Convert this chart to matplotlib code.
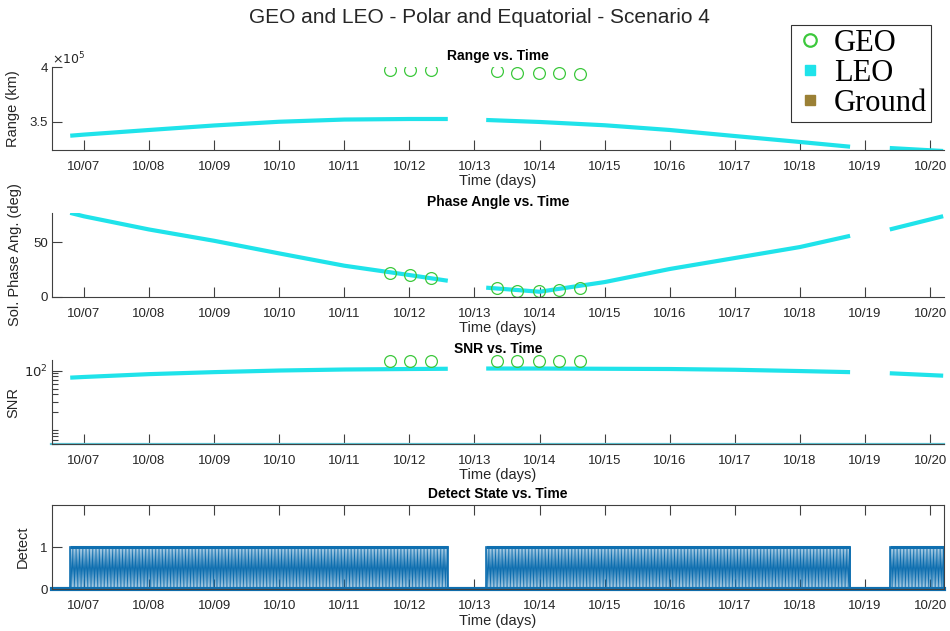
import numpy as np
import matplotlib
matplotlib.use("Agg")
import matplotlib.pyplot as plt
from matplotlib.ticker import FixedLocator, FuncFormatter, NullFormatter
from matplotlib.lines import Line2D

# ---- data (day of October) ----
nan = np.nan
leo_days = [6.79, 7.0, 8.0, 9.0, 10.0, 11.0, 12.0, 12.59, nan,
            13.18, 14.0, 15.0, 16.0, 17.0, 18.0, 18.77, nan,
            19.38, 20.2]
leo_range = [3.375e5, 3.385e5, 3.427e5, 3.468e5, 3.502e5, 3.522e5, 3.527e5, 3.527e5, nan,
             3.518e5, 3.500e5, 3.470e5, 3.427e5, 3.372e5, 3.318e5, 3.275e5, nan,
             3.263e5, 3.236e5]
leo_phase = [76.6, 73.5, 61.5, 51.2, 39.7, 28.5, 20.0, 14.8, nan,
             8.5, 4.8, 13.6, 25.5, 35.5, 45.5, 55.7, nan,
             61.5, 73.6]
leo_snr = [76, 78, 87, 94, 100, 104, 106, 107, nan,
           108, 108, 107, 106, 103, 98, 94, nan,
           90, 82]
leo_snr_floor_days = [6.5, 20.21]
leo_snr_floor = [5.9, 5.9]

geo_days = [11.70, 12.01, 12.33, 13.34, 13.66, 13.995, 14.30, 14.62]
geo_range = [3.973e5, 3.973e5, 3.973e5, 3.964e5, 3.948e5, 3.948e5, 3.942e5, 3.933e5]
geo_phase = [22.1, 20.0, 17.0, 8.5, 5.7, 5.7, 6.4, 8.5]
geo_snr = [146, 146, 146, 146, 146, 146, 146, 146]

# detection windows (start, end) and detector sample cadence in days
detect_windows = [(6.79, 12.59), (13.18, 18.77), (19.38, 20.21)]
detect_cadence = 0.011

tick_days = list(range(7, 21))
tick_labels = ["10/%02d" % d for d in tick_days]

# ---- style ----
GEO_C = "#3cc83c"
LEO_C = "#1fe3ea"
GROUND_C = "#9b8035"
DET_C = "#0f6fb0"
AX_C = "#404040"
TXT_C = "#262626"

plt.rcParams["font.family"] = ["Liberation Sans", "DejaVu Sans"]

fig = plt.figure(figsize=(9.5, 6.31), dpi=100)
W, H = 950.0, 631.0
left, right = 52 / W, 943.5 / W
panels = [(67, 150), (213, 297), (360, 444), (505, 589.3)]
axes = []
for top, bot in panels:
    ax = fig.add_axes([left, 1 - bot / H, right - left, (bot - top) / H])
    axes.append(ax)

xlim = (6.51, 20.205)
axw = right * W - left * W


def style(ax, boxed=False):
    ax.set_xlim(*xlim)
    ax.set_xticks(tick_days)
    ax.set_xticklabels(tick_labels)
    ax.tick_params(direction="in", length=7, width=0.8, colors=AX_C,
                   labelcolor=TXT_C, labelsize=9.5, pad=8)
    ax.tick_params(axis="y", pad=3)
    for s in ["left", "bottom", "top", "right"]:
        ax.spines[s].set_color(AX_C)
        ax.spines[s].set_linewidth(0.8)
    if boxed:
        ax.tick_params(top=True, right=False)
    else:
        ax.spines["top"].set_visible(False)
        ax.spines["right"].set_visible(False)
    ax.set_xlabel("Time (days)", fontsize=10.5, color=TXT_C, labelpad=1)
    ax.patch.set_alpha(0)


def ylabel(ax, text, xpix):
    ax.set_ylabel(text, fontsize=10.5, color=TXT_C)
    ax.yaxis.set_label_coords((xpix - left * W) / axw, 0.5)


# Range
ax = axes[0]
ax.plot(leo_days, leo_range, color=LEO_C, lw=3, solid_capstyle="butt", label="LEO")
ax.plot(geo_days, geo_range, "o", mfc="none", mec=GEO_C, ms=8.5, mew=0.9, label="GEO")
ax.set_ylim(3.245e5, 4.0e5)
ax.set_yticks([3.5e5, 4.0e5])
ax.yaxis.set_major_formatter(FuncFormatter(lambda v, p: "%g" % (v / 1e5)))
ax.text(0.0, 1.0, r"$\times10^{5}$", transform=ax.transAxes, fontsize=9,
        color=TXT_C, ha="left", va="bottom")
ylabel(ax, "Range (km)", 20)
ax.set_title("Range vs. Time", fontsize=10, fontweight="bold", pad=5)
style(ax)

# Phase angle
ax = axes[1]
ax.plot(leo_days, leo_phase, color=LEO_C, lw=3, solid_capstyle="butt")
ax.plot(geo_days, geo_phase, "o", mfc="none", mec=GEO_C, ms=8.5, mew=0.9)
ax.set_ylim(0, 76.5)
ax.set_yticks([0, 50])
ylabel(ax, "Sol. Phase Ang. (deg)", 22)
ax.set_title("Phase Angle vs. Time", fontsize=10, fontweight="bold", pad=5)
style(ax)

# SNR
ax = axes[2]
ax.plot(leo_snr_floor_days, leo_snr_floor, color="#5cc4d4", lw=1.6, clip_on=False)
ax.plot(leo_days, leo_snr, color=LEO_C, lw=3, solid_capstyle="butt")
ax.plot(geo_days, geo_snr, "o", mfc="none", mec=GEO_C, ms=8.5, mew=0.9, clip_on=False)
ax.set_yscale("log")
ax.set_ylim(5.9, 150)
ax.yaxis.set_major_locator(FixedLocator([100]))
ax.yaxis.set_minor_locator(FixedLocator([6, 7, 8, 9, 10, 20, 30, 40, 50, 60, 70, 80, 90]))
ax.yaxis.set_minor_formatter(NullFormatter())
ax.yaxis.set_major_formatter(FuncFormatter(lambda v, p: r"$10^{2}$"))
ax.tick_params(axis="y", which="minor", direction="in", length=4, width=0.8, colors=AX_C)
ylabel(ax, "SNR", 20)
ax.set_title("SNR vs. Time", fontsize=10, fontweight="bold", pad=5)
style(ax)

# Detect state
ax = axes[3]
t_all, s_all = [xlim[0]], [0.0]
for a, b in detect_windows:
    t = np.arange(a, b, detect_cadence)
    s = (np.arange(len(t)) % 2).astype(float)
    t_all += [a] + list(t) + [b, b]
    s_all += [0.0] + list(s) + [1.0, 0.0]
t_all.append(xlim[1])
s_all.append(0.0)
ax.plot(t_all, s_all, color=DET_C, lw=0.5)
for a, b in detect_windows:
    ax.plot([a, b], [1, 1], color=DET_C, lw=2.2, solid_capstyle="butt")
    ax.plot([a, a], [0, 1], color=DET_C, lw=1.2)
    ax.plot([b, b], [0, 1], color=DET_C, lw=1.2)
ax.plot([xlim[0], xlim[1]], [0, 0], color=DET_C, lw=3, clip_on=False)
ax.set_ylim(0, 2)
ax.set_yticks([0, 1])
ylabel(ax, "Detect", 30)
ax.set_title("Detect State vs. Time", fontsize=10, fontweight="bold", pad=5)
style(ax, boxed=True)

# ground track has no samples in this window
axes[0].plot([], [], "s", color=GROUND_C, label="Ground")

fig.suptitle("GEO and LEO - Polar and Equatorial - Scenario 4", fontsize=15,
             color=TXT_C, x=0.505, y=0.988)

handles = [
    Line2D([], [], ls="none", marker="o", mfc="none", mec=GEO_C, ms=9, mew=1.6),
    Line2D([], [], ls="none", marker="s", color=LEO_C, ms=7),
    Line2D([], [], ls="none", marker="s", color=GROUND_C, ms=7),
]
leg = fig.legend(handles, ["GEO", "LEO", "Ground"], loc="upper right",
                 bbox_to_anchor=(931 / W, 1 - 25 / H),
                 prop={"family": "Liberation Serif", "size": 22},
                 frameon=True, fancybox=False, edgecolor="black",
                 handlelength=1.0, handletextpad=0.3, labelspacing=0.04,
                 borderpad=0.12, borderaxespad=0)
leg.get_frame().set_linewidth(0.8)

fig.savefig("out.png", dpi=100)
